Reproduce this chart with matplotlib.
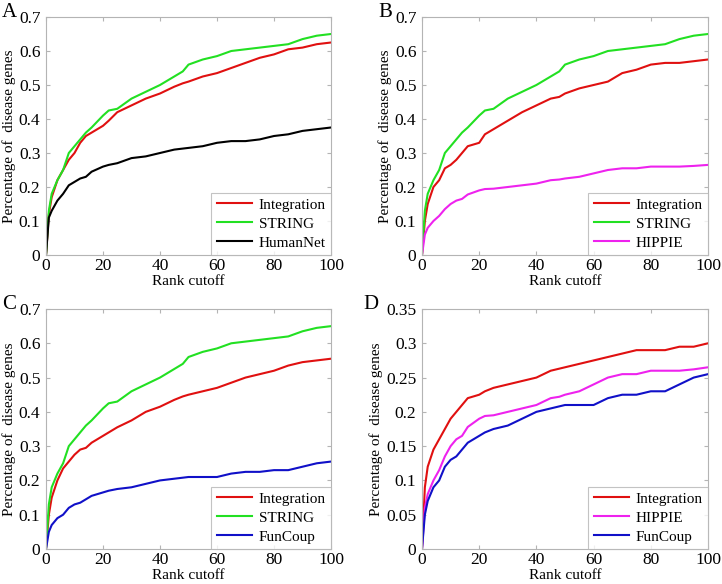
import numpy as np
import matplotlib.pyplot as plt

# rank cutoffs at which the curves were read
rank = [0, 1, 2, 4, 6, 8, 10, 12, 14, 16, 20, 22, 25, 30, 35, 40, 45, 48, 50, 55,
        60, 65, 70, 75, 80, 85, 90, 95, 100]

string = [0, 0.13, 0.18, 0.22, 0.25, 0.30, 0.32, 0.34, 0.36, 0.375, 0.41, 0.425, 0.43,
          0.46, 0.48, 0.50, 0.525, 0.54, 0.56, 0.575, 0.585, 0.60, 0.605, 0.61, 0.615,
          0.62, 0.635, 0.645, 0.65]

integ_a = [0, 0.12, 0.17, 0.22, 0.25, 0.28, 0.30, 0.33, 0.35, 0.36, 0.38, 0.395, 0.42,
           0.44, 0.46, 0.475, 0.495, 0.505, 0.51, 0.525, 0.535, 0.55, 0.565, 0.58, 0.59,
           0.605, 0.61, 0.62, 0.625]
humannet = [0, 0.11, 0.13, 0.16, 0.18, 0.205, 0.215, 0.225, 0.23, 0.245, 0.26, 0.265, 0.27,
            0.285, 0.29, 0.30, 0.31, 0.313, 0.315, 0.32, 0.33, 0.335, 0.335, 0.34, 0.35,
            0.355, 0.365, 0.37, 0.375]

integ_b = [0, 0.10, 0.15, 0.20, 0.22, 0.255, 0.265, 0.28, 0.30, 0.32, 0.33, 0.355, 0.37,
           0.395, 0.42, 0.44, 0.46, 0.465, 0.475, 0.49, 0.50, 0.51, 0.535, 0.545, 0.56,
           0.565, 0.565, 0.57, 0.575]
hippie = [0, 0.06, 0.08, 0.10, 0.115, 0.135, 0.15, 0.16, 0.165, 0.178, 0.19, 0.194, 0.195,
          0.20, 0.205, 0.21, 0.22, 0.222, 0.225, 0.23, 0.24, 0.25, 0.255, 0.255, 0.26,
          0.26, 0.26, 0.262, 0.265]

integ_c = [0, 0.10, 0.15, 0.20, 0.235, 0.255, 0.275, 0.29, 0.295, 0.31, 0.33, 0.34, 0.355,
           0.375, 0.40, 0.415, 0.435, 0.445, 0.45, 0.46, 0.47, 0.485, 0.50, 0.51, 0.52,
           0.535, 0.545, 0.55, 0.555]
funcoup = [0, 0.05, 0.07, 0.09, 0.10, 0.12, 0.13, 0.135, 0.145, 0.155, 0.165, 0.17, 0.175,
           0.18, 0.19, 0.20, 0.205, 0.208, 0.21, 0.21, 0.21, 0.22, 0.225, 0.225, 0.23,
           0.23, 0.24, 0.25, 0.255]

integ_d = [0, 0.09, 0.12, 0.145, 0.16, 0.175, 0.19, 0.20, 0.21, 0.22, 0.225, 0.23, 0.235,
           0.24, 0.245, 0.25, 0.26, 0.263, 0.265, 0.27, 0.275, 0.28, 0.285, 0.29, 0.29,
           0.29, 0.295, 0.295, 0.30]

RED, GREEN, BLACK, MAG, BLUE = '#e01010', '#22e022', '#000000', '#ee22ee', '#1010c8'
panels = [
    ('A', [(integ_a, RED, 'Integration'), (string, GREEN, 'STRING'), (humannet, BLACK, 'HumanNet')], 0.7),
    ('B', [(integ_b, RED, 'Integration'), (string, GREEN, 'STRING'), (hippie, MAG, 'HIPPIE')], 0.7),
    ('C', [(integ_c, RED, 'Integration'), (string, GREEN, 'STRING'), (funcoup, BLUE, 'FunCoup')], 0.7),
    ('D', [(integ_d, RED, 'Integration'), (hippie, MAG, 'HIPPIE'), (funcoup, BLUE, 'FunCoup')], 0.35),
]

plt.rcParams.update({
    'font.family': ['Liberation Serif', 'DejaVu Serif'],
    'font.size': 11,
    'axes.edgecolor': '#b4b4b4',
    'xtick.color': '#b4b4b4',
    'ytick.color': '#b4b4b4',
    'xtick.labelcolor': 'black',
    'ytick.labelcolor': 'black',
    'xtick.direction': 'in',
    'ytick.direction': 'in',
    'xtick.top': True,
    'ytick.right': True,
    'xtick.major.size': 3,
    'ytick.major.size': 3,
    'axes.linewidth': 0.8,
})

fig = plt.figure(figsize=(7.22, 5.84), dpi=100)
W, H = 722, 584
boxes = [(46, 17, 331, 255), (422, 17, 708, 255), (46, 309, 331, 549), (422, 309, 708, 549)]
letter_x = [2, 378, 2, 363]

for (letter, series, ymax), (x0, y0, x1, y1), lx in zip(panels, boxes, letter_x):
    ax = fig.add_axes([x0 / W, 1 - y1 / H, (x1 - x0) / W, (y1 - y0) / H])
    for vals, col, lab in series:
        ax.plot(rank, vals, color=col, lw=1.5, label=lab)
    ax.set_xlim(0, 100)
    ax.set_ylim(0, ymax)
    ax.set_xticks([0, 20, 40, 60, 80, 100])
    step = 0.1 if ymax == 0.7 else 0.05
    yt = np.round(np.arange(0, ymax + 1e-9, step), 2)
    ax.set_yticks(yt)
    ax.set_yticklabels(['0' if v == 0 else f'{v:g}' for v in yt])
    ax.tick_params(axis='x', labelsize=12.5, pad=2)
    ax.tick_params(axis='y', labelsize=12.5, pad=4)
    ax.set_xlabel('Rank cutoff', fontsize=11, labelpad=1)
    ax.set_ylabel('Percentage of  disease genes', fontsize=11, labelpad=2)
    leg = ax.legend(loc='lower right', fontsize=11, frameon=True, fancybox=False,
                    borderaxespad=0, handlelength=2.3, handletextpad=0.45,
                    labelspacing=0.35, borderpad=0.35)
    leg.get_frame().set_edgecolor('#b4b4b4')
    leg.get_frame().set_linewidth(0.8)
    fig.text(lx / W, 1 - (y0 - 4.5) / H, letter, fontsize=15, va='center', ha='left')

fig.savefig('out.png', dpi=100)
